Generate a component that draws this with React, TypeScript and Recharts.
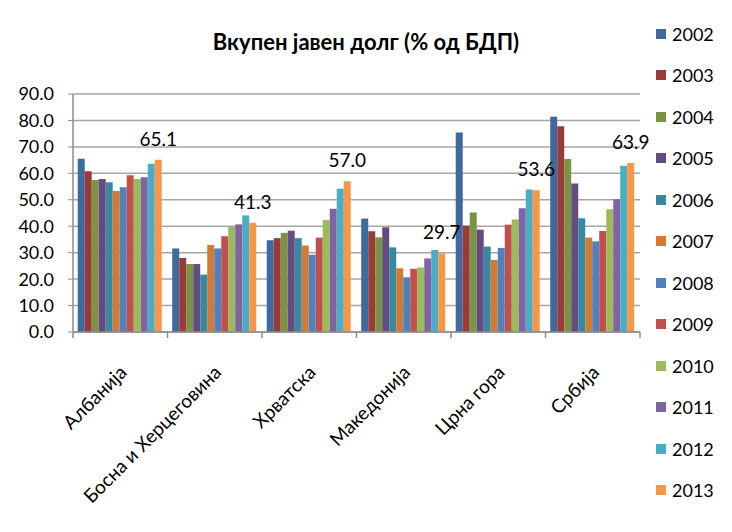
import React from 'react';
import { BarChart, Bar, XAxis, YAxis, CartesianGrid, Legend, LabelList } from 'recharts';

const countries = ['Албанија', 'Босна и Херцеговина', 'Хрватска', 'Македонија', 'Црна гора', 'Србија'];
const years = ['2002', '2003', '2004', '2005', '2006', '2007', '2008', '2009', '2010', '2011', '2012', '2013'];

// one array per year, in the order of countries
const y2002 = [65.5, 31.6, 34.7, 42.9, 75.4, 81.4];
const y2003 = [60.8, 28.0, 35.5, 38.1, 40.2, 77.8];
const y2004 = [57.5, 25.7, 37.5, 35.8, 45.2, 65.4];
const y2005 = [57.9, 25.7, 38.3, 39.6, 38.7, 56.2];
const y2006 = [56.6, 21.7, 35.5, 32.0, 32.3, 43.0];
const y2007 = [53.3, 32.9, 32.7, 24.1, 27.3, 35.7];
const y2008 = [54.7, 31.6, 29.2, 20.7, 31.8, 34.3];
const y2009 = [59.3, 36.2, 35.7, 23.9, 40.6, 38.2];
const y2010 = [57.9, 39.7, 42.3, 24.4, 42.5, 46.4];
const y2011 = [58.5, 40.7, 46.6, 27.8, 46.8, 50.2];
const y2012 = [63.6, 44.1, 54.2, 31.0, 53.9, 62.9];
const y2013 = [65.1, 41.3, 57.0, 29.7, 53.6, 63.9];

const series = [y2002, y2003, y2004, y2005, y2006, y2007, y2008, y2009, y2010, y2011, y2012, y2013];
const colors = [
	'#3E6A9E', '#9B3B39', '#7A9444', '#644C83', '#3689A0', '#D27A33',
	'#4F81BD', '#C0504D', '#9BBB59', '#8064A2', '#4BACC6', '#F79646',
];
const yTicks = [0, 10, 20, 30, 40, 50, 60, 70, 80, 90];

const data = countries.map((name, i) => {
	const row: any = { name };
	years.forEach((yr, j) => {
		row[yr] = series[j][i];
	});
	return row;
});

const font = 'Lato, "Noto Sans", sans-serif';
const BAND = 94.5; // width of one category on the x axis

const CountryTick = ({ x, y, payload, index }: any) => (
	<g>
		<line x1={x - BAND / 2} y1={y - 8} x2={x - BAND / 2} y2={y - 2} stroke="#8c8c8c" strokeWidth={1.5} />
		{index === countries.length - 1 && (
			<line x1={x + BAND / 2} y1={y - 8} x2={x + BAND / 2} y2={y - 2} stroke="#8c8c8c" strokeWidth={1.5} />
		)}
		<g transform={`translate(${x + 2},${y + 28})`}>
			<text
				x={0}
				y={0}
				dy={8}
				textAnchor="end"
				transform="rotate(-45)"
				fontSize={19}
				fill="#000"
				fontFamily={font}
			>
				{payload.value}
			</text>
		</g>
	</g>
);

const renderLegend = () => (
	<div style={{ fontFamily: font }}>
		{years.map((yr, i) => (
			<div key={yr} style={{ height: 41.5, display: 'flex', alignItems: 'center' }}>
				<span style={{ width: 10, height: 10, background: colors[i], marginRight: 6, display: 'inline-block' }} />
				<span style={{ fontSize: 18, color: '#000' }}>{yr}</span>
			</div>
		))}
	</div>
);

const App = () => {
	return (
		<div style={{ position: 'absolute', left: 0, top: 0, width: 732, height: 532, background: '#fff' }}>
			<div
				style={{
					position: 'absolute',
					top: 28,
					left: 166,
					width: 400,
					textAlign: 'center',
					fontFamily: font,
					fontSize: 22,
					fontWeight: 'bold',
					color: '#000',
				}}
			>
				Вкупен јавен долг (% од БДП)
			</div>
			<BarChart
				width={732}
				height={532}
				data={data}
				margin={{ top: 94, right: 16, left: 8, bottom: 80 }}
				barCategoryGap="5%"
				barGap={0}
			>
				<CartesianGrid vertical={false} stroke="#a6a6a6" strokeWidth={1.5} />
				<XAxis
					dataKey="name"
					interval={0}
					height={120}
					tick={<CountryTick />}
					tickLine={false}
					axisLine={{ stroke: '#8c8c8c', strokeWidth: 1.5 }}
				/>
				<YAxis
					width={65}
					domain={[0, 90]}
					ticks={yTicks}
					interval={0}
					tickFormatter={(v: number) => v.toFixed(1)}
					tick={{ fontSize: 18, fill: '#000', fontFamily: font }}
					tickSize={5}
					tickMargin={14}
					tickLine={{ stroke: '#8c8c8c' }}
					axisLine={{ stroke: '#8c8c8c', strokeWidth: 1.5 }}
				/>
				<Legend
					layout="vertical"
					align="right"
					verticalAlign="top"
					content={renderLegend}
					wrapperStyle={{ top: 13, left: 656, width: 76 }}
				/>
				{years.map((yr, i) => (
					<Bar key={yr} dataKey={yr} fill={colors[i]} isAnimationActive={false}>
						{yr === '2013' && (
							<LabelList
								dataKey={yr}
								position="top"
								offset={14}
								formatter={(v: any) => Number(v).toFixed(1)}
								style={{ fontSize: 19, fill: '#000', fontFamily: font }}
							/>
						)}
					</Bar>
				))}
			</BarChart>
		</div>
	);
};

export default App;
